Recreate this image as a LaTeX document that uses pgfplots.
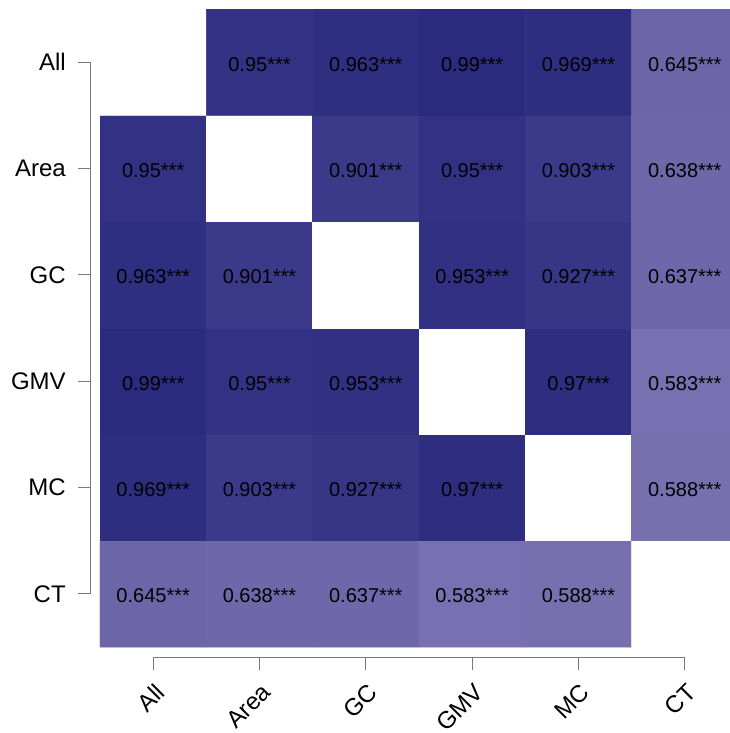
\documentclass[border=0pt]{standalone}
\usepackage{pgfplots}
\pgfplotsset{compat=1.18}
\usepackage{fontspec}
\setmainfont{Liberation Sans}
\definecolor{axgray}{RGB}{120,120,120}
\pgfplotsset{
  colormap={corr}{rgb255(500)=(255,255,255) rgb255(579)=(255,255,255) rgb255(580)=(121,113,176) rgb255(990)=(42,42,126) rgb255(1000)=(40,40,124)}
}
\begin{document}
\begin{tikzpicture}
\begin{axis}[
  at={(75pt,64.5pt)}, anchor=south west,
  scale only axis, width=472.5pt, height=478.5pt,
  xmin=-0.5, xmax=5.425, ymin=-0.5, ymax=5.5,
  axis line style={draw=none},
  tick style={draw=none},
  xtick={0,1,2,3,4,5}, ytick={0,1,2,3,4,5},
  xticklabels={All,Area,GC,GMV,MC,CT},
  yticklabels={CT,MC,GMV,GC,Area,All},
  yticklabel style={anchor=east, inner sep=0pt, xshift=-25.5pt, font=\fontsize{18}{18}\selectfont},
  xticklabel style={xshift=5.25pt, yshift=-30.75pt, rotate=45, anchor=east, inner sep=0pt, font=\fontsize{18}{18}\selectfont},
  colormap name=corr,
  point meta min=0.5, point meta max=1.0,
  after end axis/.code={
    \begin{scope}[draw=axgray, line width=0.75pt]
    \draw (axis cs:-0.594,0) -- (axis cs:-0.594,5);
    \draw (axis cs:0,-0.6) -- (axis cs:5,-0.6);
    \draw (axis cs:-0.594,0) -- (axis cs:-0.707,0);
    \draw (axis cs:-0.594,1) -- (axis cs:-0.707,1);
    \draw (axis cs:-0.594,2) -- (axis cs:-0.707,2);
    \draw (axis cs:-0.594,3) -- (axis cs:-0.707,3);
    \draw (axis cs:-0.594,4) -- (axis cs:-0.707,4);
    \draw (axis cs:-0.594,5) -- (axis cs:-0.707,5);
    \draw (axis cs:0,-0.6) -- (axis cs:0,-0.716);
    \draw (axis cs:1,-0.6) -- (axis cs:1,-0.716);
    \draw (axis cs:2,-0.6) -- (axis cs:2,-0.716);
    \draw (axis cs:3,-0.6) -- (axis cs:3,-0.716);
    \draw (axis cs:4,-0.6) -- (axis cs:4,-0.716);
    \draw (axis cs:5,-0.6) -- (axis cs:5,-0.716);
    \end{scope}
  },
]
\addplot[matrix plot*, mesh/cols=6, point meta=explicit] table[meta=v] {
x y v
0 0 0.645
1 0 0.638
2 0 0.637
3 0 0.583
4 0 0.588
5 0 0.5
0 1 0.969
1 1 0.903
2 1 0.927
3 1 0.97
4 1 0.5
5 1 0.588
0 2 0.99
1 2 0.95
2 2 0.953
3 2 0.5
4 2 0.97
5 2 0.583
0 3 0.963
1 3 0.901
2 3 0.5
3 3 0.953
4 3 0.927
5 3 0.637
0 4 0.95
1 4 0.5
2 4 0.901
3 4 0.95
4 4 0.903
5 4 0.638
0 5 0.5
1 5 0.95
2 5 0.963
3 5 0.99
4 5 0.969
5 5 0.645
};
\addplot[only marks, mark=*, mark size=0pt, mark options={draw=none,fill=none},
  point meta=explicit symbolic, nodes near coords,
  nodes near coords style={anchor=center, inner sep=0pt, yshift=-1.5pt, font=\fontsize{15}{15}\selectfont, text=black}]
  table[meta=t] {
x y t
0 0 0.645***
1 0 0.638***
2 0 0.637***
3 0 0.583***
4 0 0.588***
0 1 0.969***
1 1 0.903***
2 1 0.927***
3 1 0.97***
5 1 0.588***
0 2 0.99***
1 2 0.95***
2 2 0.953***
4 2 0.97***
5 2 0.583***
0 3 0.963***
1 3 0.901***
3 3 0.953***
4 3 0.927***
5 3 0.637***
0 4 0.95***
2 4 0.901***
3 4 0.95***
4 4 0.903***
5 4 0.638***
1 5 0.95***
2 5 0.963***
3 5 0.99***
4 5 0.969***
5 5 0.645***
};
\end{axis}
\pgfresetboundingbox
\path[use as bounding box] (0,0) rectangle (547.5pt,549.75pt);
\end{tikzpicture}
\end{document}
